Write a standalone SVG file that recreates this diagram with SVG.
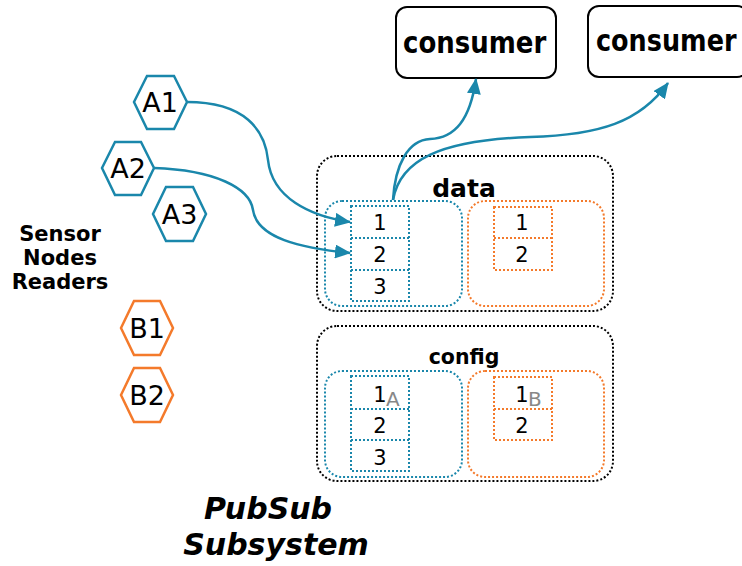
<svg xmlns="http://www.w3.org/2000/svg" width="742" height="566" viewBox="0 0 742 566">
  <defs>
    <marker id="arrow" viewBox="0 0 16 14" refX="15" refY="7" markerWidth="16" markerHeight="14" markerUnits="userSpaceOnUse" orient="auto">
      <path d="M0,0 L16,7 L0,14 Z" fill="#1a87ab"/>
    </marker>
  </defs>
  <style>
    text { font-family: "DejaVu Sans", Verdana, sans-serif; fill: #000; }
    .hexA { fill: #fff; stroke: #1a87ab; stroke-width: 2.5; }
    .hexB { fill: #fff; stroke: #f47a2b; stroke-width: 2.5; }
    .hexlbl { font-size: 27px; text-anchor: middle; }
    .box { fill: #fff; stroke: #000; stroke-width: 2; }
    .bold { font-weight: bold; }
    .outer { fill: none; stroke: #000; stroke-width: 2; stroke-dasharray: 2 2; }
    .blueC { fill: none; stroke: #1a87ab; stroke-width: 2; stroke-dasharray: 2 2; }
    .orangeC { fill: none; stroke: #f47a2b; stroke-width: 2; stroke-dasharray: 2 2; }
    .cell { font-size: 21px; text-anchor: middle; }
    .sub { font-size: 20px; fill: #888; }
    .conn { fill: none; stroke: #1a87ab; stroke-width: 2.5; marker-end: url(#arrow); }
  </style>

  <!-- consumers -->
  <g id="consumer1">
    <rect class="box" x="396" y="7" width="160" height="71" rx="11"/>
    <text class="bold" font-size="26" transform="translate(403,53) scale(1,1.15)">consumer</text>
  </g>
  <g id="consumer2">
    <rect class="box" x="588" y="6" width="160" height="71" rx="11"/>
    <text class="bold" font-size="25.5" transform="translate(596,51) scale(1,1.15)">consumer</text>
  </g>

  <!-- sensor node readers -->
  <g id="A1">
    <polygon class="hexA" points="134,102 147,76 174,76 187,102 174,129 147,129"/>
    <text class="hexlbl" x="160" y="112">A1</text>
  </g>
  <g id="A2">
    <polygon class="hexA" points="102,168 115,142 141,142 154,168 141,195 115,195"/>
    <text class="hexlbl" x="128" y="178">A2</text>
  </g>
  <g id="A3">
    <polygon class="hexA" points="153,214 166,187 193,187 206,214 193,241 166,241"/>
    <text class="hexlbl" x="179.5" y="224">A3</text>
  </g>
  <g id="B1">
    <polygon class="hexB" points="121,328 134,301 160,301 173,328 160,355 134,355"/>
    <text class="hexlbl" x="147" y="338">B1</text>
  </g>
  <g id="B2">
    <polygon class="hexB" points="121,395 134,368 160,368 173,395 160,422 134,422"/>
    <text class="hexlbl" x="147" y="405">B2</text>
  </g>

  <g id="sensor-label" class="bold" font-size="21" text-anchor="middle">
    <text x="60" y="241">Sensor</text>
    <text x="60" y="265">Nodes</text>
    <text x="60" y="289">Readers</text>
  </g>

  <!-- data topic -->
  <g id="data">
    <rect class="outer" x="317" y="156" width="296" height="155" rx="20"/>
    <text class="bold" x="464" y="197" font-size="25" text-anchor="middle">data</text>
    <rect class="blueC" x="325" y="201" width="137" height="105" rx="17"/>
    <rect class="orangeC" x="468" y="201" width="136" height="105" rx="17"/>
    <g id="data-a">
      <rect class="blueC" x="351" y="206" width="58" height="95"/>
      <line class="blueC" x1="351" y1="238" x2="409" y2="238"/>
      <line class="blueC" x1="351" y1="270" x2="409" y2="270"/>
      <text class="cell" x="380" y="230">1</text>
      <text class="cell" x="380" y="262">2</text>
      <text class="cell" x="380" y="294">3</text>
    </g>
    <g id="data-b">
      <rect class="orangeC" x="494" y="207" width="58" height="63"/>
      <line class="orangeC" x1="494" y1="238" x2="552" y2="238"/>
      <text class="cell" x="522" y="230">1</text>
      <text class="cell" x="522" y="262">2</text>
    </g>
  </g>

  <!-- config topic -->
  <g id="config">
    <rect class="outer" x="317" y="326" width="296" height="155" rx="20"/>
    <text class="bold" x="464" y="364" font-size="20.5" text-anchor="middle">config</text>
    <rect class="blueC" x="325" y="371" width="137" height="106" rx="17"/>
    <rect class="orangeC" x="468" y="371" width="136" height="106" rx="17"/>
    <g id="config-a">
      <rect class="blueC" x="351" y="376" width="58" height="95"/>
      <line class="blueC" x1="351" y1="409" x2="409" y2="409"/>
      <line class="blueC" x1="351" y1="440" x2="409" y2="440"/>
      <text class="cell" x="380" y="402">1</text>
      <text class="sub" x="386" y="406">A</text>
      <text class="cell" x="380" y="433">2</text>
      <text class="cell" x="380" y="465">3</text>
    </g>
    <g id="config-b">
      <rect class="orangeC" x="494" y="377" width="58" height="63"/>
      <line class="orangeC" x1="494" y1="409" x2="552" y2="409"/>
      <text class="cell" x="522" y="402">1</text>
      <text class="sub" x="528" y="406">B</text>
      <text class="cell" x="522" y="433">2</text>
    </g>
  </g>

  <g id="title" class="bold" font-size="30" font-style="italic" text-anchor="middle">
    <text x="268" y="519">PubSub</text>
    <text x="276" y="555">Subsystem</text>
  </g>

  <!-- connectors -->
  <g id="connectors">
    <path class="conn" d="M187,102 C245,102 265,130 268,160 C272,198 310,216 350,222"/>
    <path class="conn" d="M154,168 C215,170 250,188 253,210 C257,238 300,248 350,253"/>
    <path class="conn" d="M393,200 C395,165 408,140 430,139 C455,138 470,120 476,79"/>
    <path class="conn" d="M393,200 C400,160 440,140 530,137 C600,135 640,122 668,83"/>
  </g>
</svg>
